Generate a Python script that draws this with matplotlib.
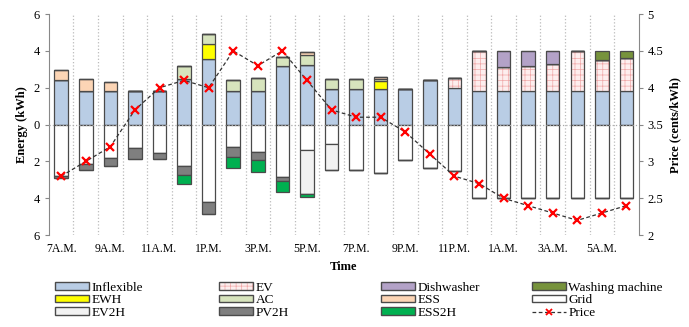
import numpy as np
import matplotlib
matplotlib.use("Agg")
import matplotlib.pyplot as plt
from matplotlib.patches import Patch
from matplotlib.lines import Line2D
from matplotlib.legend_handler import HandlerTuple

plt.rcParams['font.family'] = ['Liberation Serif', 'DejaVu Serif']
plt.rcParams['hatch.linewidth'] = 0.5

hours = ["7A.M.", "8A.M.", "9A.M.", "10A.M.", "11A.M.", "12P.M.", "1P.M.", "2P.M.",
         "3P.M.", "4P.M.", "5P.M.", "6P.M.", "7P.M.", "8P.M.", "9P.M.", "10P.M.",
         "11P.M.", "12A.M.", "1A.M.", "2A.M.", "3A.M.", "4A.M.", "5A.M.", "6A.M."]

# consumption (positive)
inflexible = [2.4, 1.85, 1.85, 1.85, 1.85, 2.5, 3.58, 1.85, 1.85, 3.16, 3.25, 1.95,
              1.95, 1.95, 1.95, 2.4, 2.0, 1.8, 1.8, 1.8, 1.8, 1.8, 1.8, 1.8]
ev = [0, 0, 0, 0, 0, 0, 0, 0, 0, 0, 0, 0, 0, 0, 0, 0,
      0.55, 2.2, 1.33, 1.4, 1.5, 2.2, 1.69, 1.84]
dishwasher = [0]*18 + [0.87, 0.8, 0.7, 0, 0, 0]
washing = [0]*22 + [0.51, 0.36]
ewh = [0, 0, 0, 0, 0, 0, 0.82, 0, 0, 0, 0, 0, 0, 0.4, 0, 0, 0, 0, 0, 0, 0, 0, 0, 0]
ac = [0, 0, 0, 0, 0, 0.7, 0.5, 0.55, 0.7, 0.5, 0.55, 0.5, 0.5, 0.12,
      0, 0, 0, 0, 0, 0, 0, 0, 0, 0]
ess = [0.55, 0.6, 0.45, 0, 0, 0, 0, 0, 0, 0, 0.15, 0, 0, 0.1,
       0, 0, 0, 0, 0, 0, 0, 0, 0, 0]

# supply (drawn below zero)
grid = [2.8, 2.15, 1.82, 1.27, 1.56, 2.27, 4.22, 1.2, 1.5, 2.82, 1.36, 1.05,
        2.44, 2.62, 1.93, 2.38, 2.5, 4.0, 4.0, 4.0, 4.0, 4.0, 4.0, 4.0]
ev2h = [0]*10 + [2.39, 1.39] + [0]*12
pv2h = [0.12, 0.32, 0.45, 0.6, 0.31, 0.46, 0.65, 0.58, 0.43, 0.23] + [0]*14
ess2h = [0, 0, 0, 0, 0, 0.47, 0, 0.6, 0.62, 0.6, 0.18] + [0]*13

price = [2.8, 3.0, 3.2, 3.7, 4.0, 4.1, 4.0, 4.5, 4.3, 4.5, 4.1, 3.7,
         3.6, 3.6, 3.4, 3.1, 2.8, 2.7, 2.5, 2.4, 2.3, 2.2, 2.3, 2.4]

x = np.arange(len(hours))
w = 0.55
ec = '#4A4A4A'
hatch_col = '#F0A8A8'

fig = plt.figure(figsize=(6.89, 3.27), dpi=100)
ax = fig.add_axes([0.071, 0.281, 0.856, 0.676])

colors = {"Inflexible": '#B9CDE5', "EV": '#FDEEEE', "Dishwasher": '#B3A2C7',
          "Washing machine": '#77933C', "EWH": '#FFFF00', "AC": '#D7E4BD',
          "ESS": '#FCD5B5', "Grid": 'white', "EV2H": '#F2F2F2',
          "PV2H": '#7F7F7F', "ESS2H": '#00B050'}
pos = {"Inflexible": inflexible, "EV": ev, "EWH": ewh, "AC": ac, "ESS": ess,
       "Dishwasher": dishwasher, "Washing machine": washing}

handles = {}
bottom = np.zeros(len(x))
for name, vals in pos.items():
    vals = np.array(vals)
    if name == "EV":
        ax.bar(x, vals, w, bottom=bottom, color=colors[name], edgecolor=hatch_col,
               linewidth=0, hatch='+++', zorder=3)
        ax.bar(x, vals, w, bottom=bottom, color='none', edgecolor=ec,
               linewidth=0.9, zorder=3)
        handles[name] = (Patch(facecolor=colors[name], edgecolor=hatch_col,
                               hatch='+++', linewidth=0),
                         Patch(facecolor='none', edgecolor=ec))
    else:
        ax.bar(x, vals, w, bottom=bottom, color=colors[name], edgecolor=ec,
               linewidth=0.9, zorder=3)
        handles[name] = Patch(facecolor=colors[name], edgecolor=ec)
    bottom += vals

neg = {"Grid": grid, "EV2H": ev2h, "PV2H": pv2h, "ESS2H": ess2h}
bottom = np.zeros(len(x))
for name, vals in neg.items():
    vals = -np.array(vals)
    ax.bar(x, vals, w, bottom=bottom, color=colors[name], edgecolor=ec,
           linewidth=0.9, zorder=3)
    bottom += vals
    handles[name] = Patch(facecolor=colors[name], edgecolor=ec)

ax.set_xlim(-0.5, 23.5)
ax.set_ylim(-6, 6)
ax.set_yticks(np.arange(-6, 7, 2))
ax.set_yticklabels([str(abs(v)) for v in range(-6, 7, 2)])
ax.set_xticks(x[::2])
ax.set_xticklabels(hours[::2])
ax.tick_params(axis='x', length=0, labelsize=8.5, pad=6)
ax.tick_params(axis='y', labelsize=9, color='#888888', length=3)
for xv in np.arange(0.5, 23.5, 1):
    ax.axvline(xv, color='#BBBBBB', linestyle=':', linewidth=0.9, zorder=1)
ax.axhline(0, color='#AAAAAA', linestyle=':', linewidth=0.9, zorder=4)
for s in ['top', 'bottom', 'right']:
    ax.spines[s].set_visible(False)
ax.spines['left'].set_color('#888888')
ax.set_ylabel("Energy (kWh)", fontweight='bold', fontsize=9)
ax.set_xlabel("Time", fontweight='bold', fontsize=9, labelpad=4)

ax2 = ax.twinx()
ax2.plot(x, price, color='#333333', linestyle=(0, (3, 2)), linewidth=0.9, marker='x',
         markersize=6, markeredgecolor='#FF0000', markeredgewidth=1.6, zorder=5)
ax2.set_ylim(2, 5)
ax2.set_yticks(np.arange(2, 5.01, 0.5))
ax2.set_yticklabels(["2", "2.5", "3", "3.5", "4", "4.5", "5"])
ax2.tick_params(axis='y', labelsize=9, color='#888888', length=3)
for s in ['top', 'bottom', 'left']:
    ax2.spines[s].set_visible(False)
ax2.spines['right'].set_color('#888888')
ax2.set_ylabel("Price (cents/kWh)", fontweight='bold', fontsize=9)

handles["Price"] = Line2D([], [], color='#333333', linestyle=(0, (3, 2)), linewidth=0.9,
                          marker='x', markeredgecolor='#FF0000', markeredgewidth=1.3,
                          markersize=5)

# legend laid out as four evenly spaced columns
leg_cols = [["Inflexible", "EWH", "EV2H"],
            ["EV", "AC", "PV2H"],
            ["Dishwasher", "ESS", "ESS2H"],
            ["Washing machine", "Grid", "Price"]]
col_x = [0.080, 0.318, 0.553, 0.772]
for names, cx in zip(leg_cols, col_x):
    fig.legend([handles[k] for k in names], names, loc='lower left',
               bbox_to_anchor=(cx, 0.025), frameon=False, fontsize=9.5,
               handlelength=2.6, handleheight=0.55, handletextpad=0.15,
               labelspacing=0.05, borderaxespad=0, borderpad=0,
               handler_map={tuple: HandlerTuple(ndivide=1, pad=0)})

fig.savefig("out.png", dpi=100)
